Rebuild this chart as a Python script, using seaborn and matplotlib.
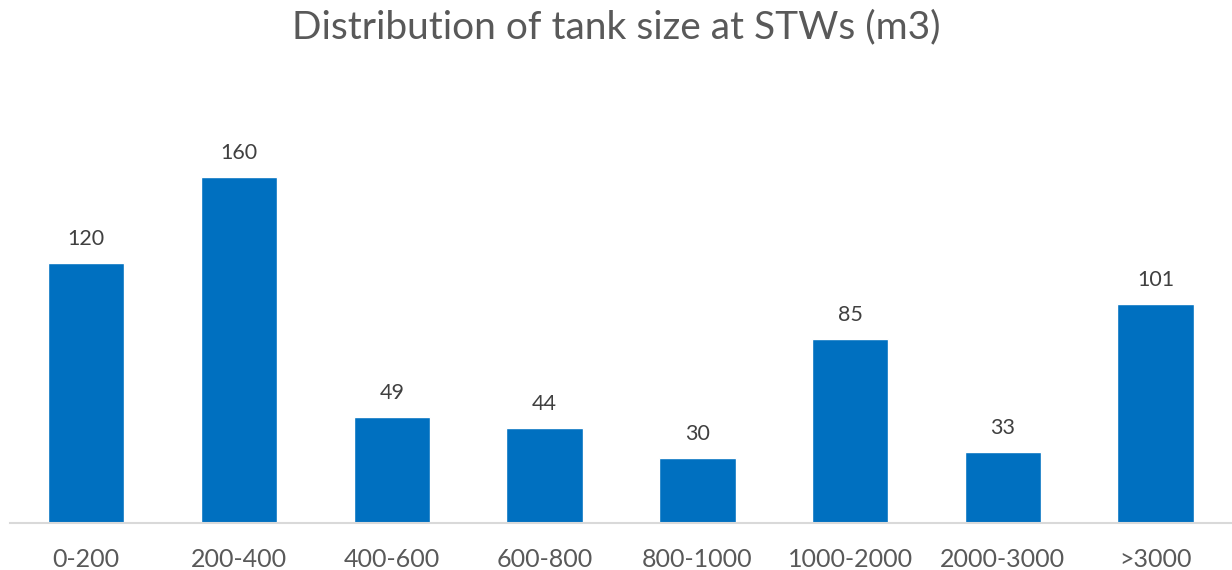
import matplotlib
matplotlib.use("Agg")
import matplotlib.pyplot as plt
import seaborn as sns
import pandas as pd

categories = ["0-200", "200-400", "400-600", "600-800", "800-1000", "1000-2000", "2000-3000", ">3000"]
counts = [120, 160, 49, 44, 30, 85, 33, 101]

sns.set_style("white")
plt.rcParams['font.family'] = ['Lato', 'DejaVu Sans']

df = pd.DataFrame({"size": categories, "count": counts})

fig = plt.figure(figsize=(12.32, 5.70), dpi=100)
ax = fig.add_axes([0.008, 0.0825, 0.992, 0.7595])
sns.barplot(data=df, x="size", y="count", color="#0070C0", width=0.5, saturation=1, ax=ax)
ax.set_xlim(-0.5, len(categories) - 0.5)
ax.set_ylim(0, 200)
for c in ax.containers:
    ax.bar_label(c, labels=[str(v) for v in counts], padding=10, fontsize=15.5, color="#404040")
ax.set_xlabel("")
ax.set_ylabel("")
ax.set_yticks([])
for s in ["top", "right", "left"]:
    ax.spines[s].set_visible(False)
ax.spines["bottom"].set_color("#D9D9D9")
ax.spines["bottom"].set_linewidth(1.5)
ax.tick_params(axis="x", length=0, pad=18, labelsize=18, labelcolor="#595959")
fig.text(0.5, 0.952, "Distribution of tank size at STWs (m3)", ha="center", va="center",
         fontsize=28, color="#595959")
fig.savefig("out.png", dpi=100)
